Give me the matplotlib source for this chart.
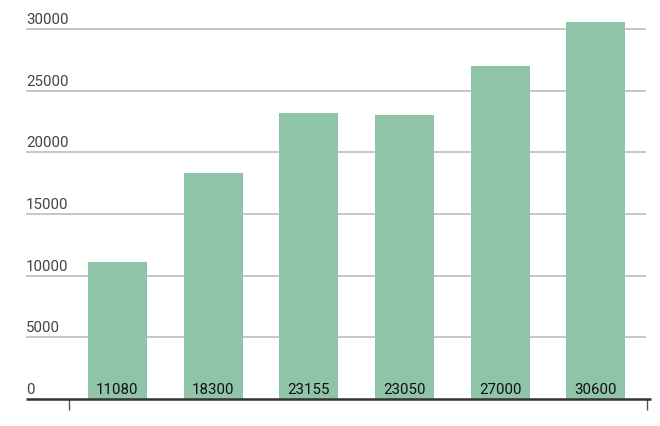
import matplotlib.pyplot as plt
import matplotlib.transforms as mtransforms

categories = ["A", "B", "C", "D", "E", "F"]
values = [11080, 18300, 23155, 23050, 27000, 30600]
yticks = [0, 5000, 10000, 15000, 20000, 25000, 30000]

W, H = 660, 426
fig = plt.figure(figsize=(W / 100, H / 100), dpi=100)
plt.rcParams['font.family'] = ['Roboto', 'DejaVu Sans']

# axes box in pixels: x 26..651, y 10..399 (from top)
left, right, top, base = 26, 651, 10, 399
ax = fig.add_axes([left / W, (H - base) / H, (right - left) / W, (base - top) / H])

# bands of 95.7 px, first band starts at ~69.6 px
unit = 95.7
start = 69.6
x0 = -0.5 - (start - left) / unit
x1 = -0.5 + (right - start) / unit
ymax = (base - top) / 370.0 * 30000
ax.set_xlim(x0, x1)
ax.set_ylim(0, ymax)

def px(p):
    return -0.5 + (p - start) / unit

pos = list(range(len(values)))
ax.bar(pos, values, width=59 / unit, color="#8fc4a8", zorder=2)

for s in ax.spines.values():
    s.set_visible(False)
ax.set_yticks([])

for t in yticks[1:]:
    ax.hlines(t, x0, px(646), color="#bdbdbd", lw=1.2, zorder=1)
ax.hlines(0, x0, x1, color="#333333", lw=1.8, zorder=3, clip_on=False)

ax.set_xticks([px(69), px(647)])
ax.set_xticklabels(["", ""])
ax.tick_params(axis="x", length=8, width=1, color="#555555", pad=0)

off = mtransforms.offset_copy(ax.transData, fig=fig, x=0, y=5, units="dots")
trans_y = mtransforms.blended_transform_factory(ax.transAxes, ax.transData)
trans_y = mtransforms.offset_copy(trans_y, fig=fig, x=0, y=5, units="dots")
for t in yticks:
    ax.text(0, t, str(t), transform=trans_y, ha="left", va="baseline",
            fontsize=10.8, color="#444444")

for p, v in zip(pos, values):
    ax.text(p, 0, str(v), transform=off, ha="center", va="baseline",
            fontsize=10.8, color="#111111", zorder=4)

fig.savefig("out.png", dpi=100)
